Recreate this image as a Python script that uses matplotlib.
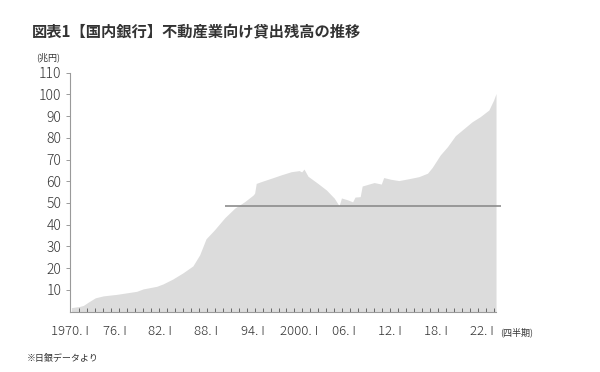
import matplotlib
matplotlib.use("Agg")
import matplotlib.pyplot as plt
from matplotlib.ticker import FixedLocator

plt.rcParams['font.family'] = ['Noto Sans CJK JP', 'DejaVu Sans']

# --- data (trillion yen, quarterly readings) ---
periods = [1970.0, 1971.0, 1971.5, 1972.2, 1973.0, 1974.0, 1975.7, 1977.3, 1978.2,
           1979.0, 1980.7, 1981.5, 1982.7, 1984.0, 1985.25, 1986.1, 1986.9, 1987.75,
           1988.0, 1989.25, 1990.5, 1991.75, 1992.8, 1993.0, 1993.2, 1993.8, 1995.1,
           1996.3, 1997.6, 1998.6, 1998.9, 1999.2, 1999.7, 2000.9, 2002.0, 2003.0,
           2003.6, 2003.9, 2004.7, 2005.3, 2005.6, 2006.25, 2006.5, 2008.0, 2008.9,
           2009.2, 2010.1, 2011.1, 2012.4, 2013.6, 2014.7, 2015.3, 2016.3, 2017.2,
           2018.2, 2019.25, 2020.3, 2021.3, 2022.4, 2023.0, 2023.3]
loans = [1.8, 2.3, 2.8, 4.5, 6.3, 7.2, 7.9, 8.8, 9.3,
         10.4, 11.6, 12.7, 14.9, 17.8, 21.0, 26.1, 33.5, 36.8,
         37.8, 43.2, 47.6, 50.6, 53.6, 54.5, 59.0, 59.8, 61.4,
         62.9, 64.4, 64.9, 64.3, 65.6, 62.3, 59.1, 56.0, 52.2,
         48.7, 52.3, 51.4, 50.5, 52.7, 52.9, 57.8, 59.4, 58.7,
         61.7, 60.9, 60.3, 61.2, 62.1, 63.7, 66.4, 72.1, 75.9,
         81.0, 84.2, 87.4, 89.7, 92.8, 97.4, 100.4]
bubble_peak_level = 48.8
ref_line_span = [1989.25, 2023.9]

tick_labels = ["1970. I", "76. I", "82. I", "88. I", "94. I",
               "2000. I", "06. I", "12. I", "18. I", "22. I"]
label_pos = [1969.79, 1975.41, 1981.16, 1986.91, 1992.79,
             1998.54, 2004.16, 2010.04, 2015.79, 2021.54]
y_ticks = [10, 20, 30, 40, 50, 60, 70, 80, 90, 100, 110]

txt = '#333333'
axcol = '#9a9a9a'

fig = plt.figure(figsize=(6.0, 3.72), dpi=100)
ax = fig.add_axes([0.1162, 0.1626, 0.7105, 0.642])

ax.fill_between(periods, 0, loans, color='#dcdcdc', linewidth=0)
ax.plot(ref_line_span, [bubble_peak_level, bubble_peak_level], color='#8c8c8c',
        linewidth=1.2, clip_on=False, solid_capstyle='butt')

ax.set_xlim(1969.96, 2023.3)
ax.set_ylim(0, 110)

for s in ['top', 'right']:
    ax.spines[s].set_visible(False)
for s in ['left', 'bottom']:
    ax.spines[s].set_color(axcol)
    ax.spines[s].set_linewidth(0.8)

ax.set_yticks(y_ticks)
ax.set_yticklabels([str(v) for v in y_ticks], fontweight='light')
ax.tick_params(axis='y', direction='out', length=3, width=0.7, color=axcol,
               labelsize=10, labelcolor=txt, pad=3)

ax.set_xticks(label_pos)
ax.set_xticklabels(tick_labels, fontweight='light')
ax.tick_params(axis='x', which='major', length=0, labelsize=9.5, labelcolor=txt, pad=10)
ax.xaxis.set_minor_locator(FixedLocator(list(range(1971, 2024))))
ax.tick_params(axis='x', which='minor', direction='in', length=3, width=0.6, color='#555555')

fig.text(32/600, 1 - 32/372, "図表1【国内銀行】不動産業向け貸出残高の推移",
         fontsize=11, fontweight='bold', color=txt, ha='left', va='center')
fig.text(36/600, 1 - 57/372, "(兆円)", fontsize=6.5, color=txt, ha='left', va='center')
fig.text(500/600, 1 - 332/372, "(四半期)", fontsize=6.5, color=txt, ha='left', va='center')
fig.text(27/600, 1 - 358/372, "※日銀データより", fontsize=6.5, color=txt, ha='left', va='center')

fig.savefig("out.png", dpi=100, facecolor='white')
